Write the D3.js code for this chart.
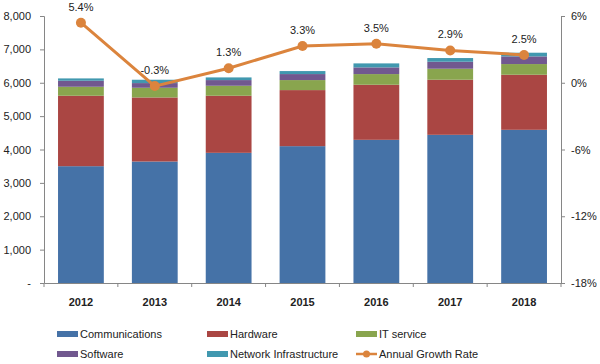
<!DOCTYPE html>
<html>
<head>
<meta charset="utf-8">
<script src="https://cdn.jsdelivr.net/npm/d3@7"></script>
<style>
  body { margin: 0; background: #fff; }
  text { font-family: "Liberation Sans", Arial, sans-serif; fill: #222; }
</style>
</head>
<body>
<div id="chart"></div>
<script>
// data
const years = ["2012", "2013", "2014", "2015", "2016", "2017", "2018"];
const communications = [3500, 3640, 3900, 4100, 4290, 4440, 4590];
const hardware = [2110, 1920, 1710, 1680, 1650, 1650, 1650];
const itService = [270, 290, 300, 300, 320, 330, 320];
const software = [180, 140, 170, 180, 200, 210, 230];
const networkInfra = [70, 100, 80, 90, 120, 110, 110];
const growthRate = [5.4, -0.3, 1.3, 3.3, 3.5, 2.9, 2.5];
const leftTicks = [0, 1000, 2000, 3000, 4000, 5000, 6000, 7000, 8000];
const rightTicks = [-18, -12, -6, 0, 6];

const seriesNames = ["Communications", "Hardware", "IT service", "Software", "Network Infrastructure"];
const seriesValues = [communications, hardware, itService, software, networkInfra];
const colors = ["#4572A7", "#AA4643", "#89A54E", "#71588F", "#4198AF"];
const lineColor = "#DB843D";

const width = 600, height = 364;
const margin = { top: 16, right: 39, bottom: 81, left: 44 };

const svg = d3.select("#chart").append("svg")
  .attr("width", width)
  .attr("height", height);

const x = d3.scaleBand()
  .domain(years)
  .range([margin.left, width - margin.right])
  .paddingInner(0.38)
  .paddingOuter(0.19);

const y = d3.scaleLinear()
  .domain([0, 8000])
  .range([height - margin.bottom, margin.top]);

const y2 = d3.scaleLinear()
  .domain([-18, 6])
  .range([height - margin.bottom, margin.top]);

// stacked bars
const table = years.map((yr, i) => {
  const row = { year: yr };
  seriesNames.forEach((s, j) => { row[s] = seriesValues[j][i]; });
  return row;
});
const stack = d3.stack().keys(seriesNames)(table);

svg.append("g").selectAll("g")
  .data(stack)
  .join("g")
  .attr("fill", (d, i) => colors[i])
  .selectAll("rect")
  .data(d => d)
  .join("rect")
  .attr("x", d => x(d.data.year))
  .attr("width", x.bandwidth())
  .attr("y", d => y(d[1]))
  .attr("height", d => y(d[0]) - y(d[1]));

// axes
const axisColor = "#868686";
const yAxis = svg.append("g")
  .attr("transform", `translate(${margin.left},0)`)
  .call(d3.axisLeft(y).tickValues(leftTicks).tickSize(4).tickPadding(9)
    .tickFormat(d => d === 0 ? "-" : d3.format(",")(d)));

const yAxis2 = svg.append("g")
  .attr("transform", `translate(${width - margin.right},0)`)
  .call(d3.axisRight(y2).tickValues(rightTicks).tickSize(4).tickPadding(6)
    .tickFormat(d => d + "%"));

const step = x.step();
const xAxis = svg.append("g")
  .attr("transform", `translate(0,${height - margin.bottom})`)
  .call(d3.axisBottom(x).tickSize(0).tickPadding(15));

// category boundary ticks on x axis
xAxis.selectAll(".bound")
  .data(d3.range(years.length + 1))
  .join("line")
  .attr("class", "bound")
  .attr("x1", i => margin.left + i * (width - margin.left - margin.right) / years.length)
  .attr("x2", i => margin.left + i * (width - margin.left - margin.right) / years.length)
  .attr("y1", 0).attr("y2", 4)
  .attr("stroke", axisColor);

[yAxis, yAxis2, xAxis].forEach(g => {
  g.selectAll(".domain").attr("stroke", axisColor);
  g.selectAll(".tick line").attr("stroke", axisColor);
  g.selectAll("text").attr("font-size", 11).style("fill", "#222");
});
xAxis.selectAll("text").attr("font-weight", "bold");

// growth line
const line = d3.line()
  .x((d, i) => x(years[i]) + x.bandwidth() / 2)
  .y(d => y2(d));

svg.append("path")
  .datum(growthRate)
  .attr("fill", "none")
  .attr("stroke", lineColor)
  .attr("stroke-width", 3)
  .attr("d", line);

svg.append("g").selectAll("circle")
  .data(growthRate)
  .join("circle")
  .attr("cx", (d, i) => x(years[i]) + x.bandwidth() / 2)
  .attr("cy", d => y2(d))
  .attr("r", 5)
  .attr("fill", lineColor);

svg.append("g").selectAll("text")
  .data(growthRate)
  .join("text")
  .attr("x", (d, i) => x(years[i]) + x.bandwidth() / 2)
  .attr("y", d => y2(d) - 12)
  .attr("text-anchor", "middle")
  .attr("font-size", 11)
  .text(d => d.toFixed(1) + "%");

// legend
const legendItems = seriesNames.map((s, i) => ({ name: s, color: colors[i], type: "bar" }))
  .concat([{ name: "Annual Growth Rate", color: lineColor, type: "line" }]);
const legendX = [57, 207, 356];
const legendY = [334, 354];

const legend = svg.append("g").selectAll("g")
  .data(legendItems)
  .join("g")
  .attr("transform", (d, i) => `translate(${legendX[i % 3]},${legendY[Math.floor(i / 3)]})`);

legend.filter(d => d.type === "bar").append("rect")
  .attr("x", 0).attr("y", -3)
  .attr("width", 21).attr("height", 6)
  .attr("fill", d => d.color);

legend.filter(d => d.type === "line").append("line")
  .attr("x1", 0).attr("x2", 21)
  .attr("y1", 0).attr("y2", 0)
  .attr("stroke", d => d.color)
  .attr("stroke-width", 2.5);
legend.filter(d => d.type === "line").append("circle")
  .attr("cx", 10.5).attr("cy", 0).attr("r", 3.5)
  .attr("fill", d => d.color);

legend.append("text")
  .attr("x", 23).attr("y", 4)
  .attr("font-size", 11)
  .text(d => d.name);
</script>
</body>
</html>
